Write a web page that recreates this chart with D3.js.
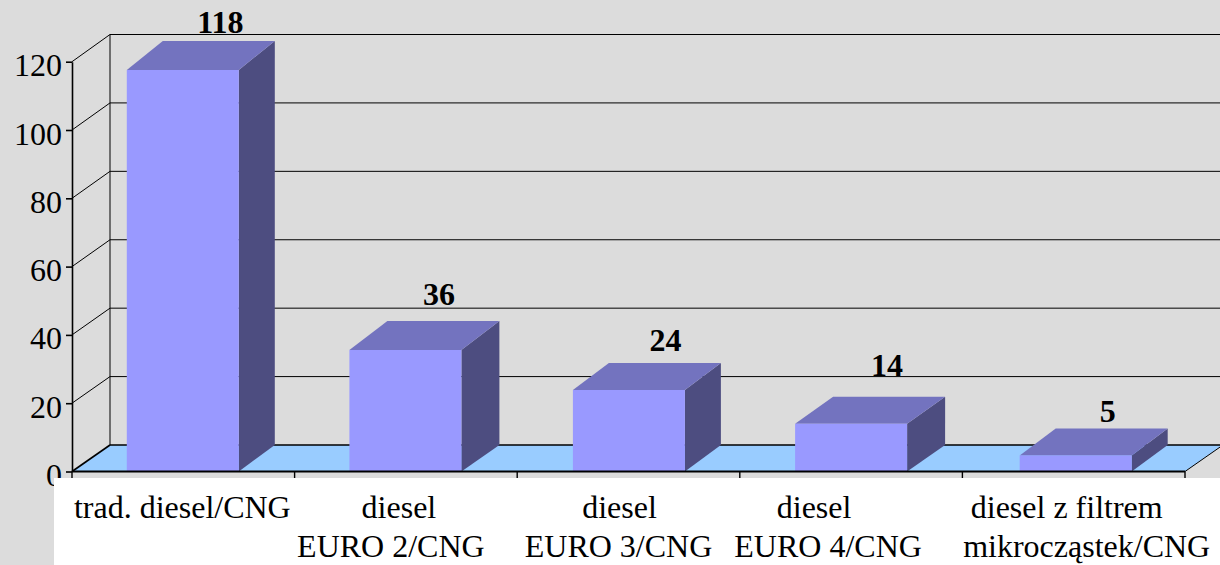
<!DOCTYPE html>
<html><head><meta charset="utf-8">
<script src="https://cdn.jsdelivr.net/npm/d3@7"></script>
<style>html,body{margin:0;padding:0;background:#dcdcdc;overflow:hidden}svg{display:block}text{font-family:"Liberation Serif",serif;fill:#000}</style>
</head><body><svg id="c" width="1220" height="565"></svg>
<script>
const categoriesLine1 = ["trad. diesel/CNG","diesel","diesel","diesel","diesel z filtrem"];
const categoriesLine2 = ["","EURO 2/CNG","EURO 3/CNG","EURO 4/CNG","mikrocząstek/CNG"];
const values = [118,36,24,14,5];
const barHeights = [117.6,35.6,23.9,14,4.7];
const yTicks = [0,20,40,60,80,100,120];

// layout, kept apart from the data
const L = {x0:72,x1:1185,y0:471.5,y1:61.7,bx:38,backY0:445,backY1:34.5,barW:112};
const barNudge=[-0.5,-0.5,0.4,0,2], barDx=[36,38,36,38,36], barDy=[-29,-29,-27,-27,-27];
const line1Off=[-1,-7,-9,-37,-7], line2Off=[0,-15,-10,-23,13];
const valDx=[37,33,37,36,34], valDy=[-37,-45,-39,-48,-33];

const svg=d3.select("#c");
const x=d3.scaleBand().domain(d3.range(values.length)).range([L.x0,L.x1]);
const y=d3.scaleLinear().domain([0,120]).range([L.y0,L.y1]);
const yb=d3.scaleLinear().domain([0,120]).range([L.backY0,L.backY1]);
const poly=(pts,fill,stroke)=>svg.append("polygon").attr("points",pts.map(p=>p.join(",")).join(" ")).attr("fill",fill).attr("stroke",stroke||"none");
const seg=(a,b,w,c)=>svg.append("line").attr("x1",a[0]).attr("y1",a[1]).attr("x2",b[0]).attr("y2",b[1]).attr("stroke",c||"#000").attr("stroke-width",w);

// floor
poly([[L.x0,y(0)],[L.x1,y(0)],[L.x1+L.bx,yb(0)],[L.x0+L.bx,yb(0)]],"#99ccff");

// wall gridlines and diagonals
yTicks.forEach(t=>{
  seg([L.x0+L.bx,yb(t)],[1222,yb(t)],t===0?1.6:1);
  seg([L.x0,y(t)],[L.x0+L.bx,yb(t)],t===0?1.6:1);
});
seg([L.x0+L.bx,yb(120)],[L.x0+L.bx,yb(0)],1);
seg([L.x1,y(0)],[L.x1+L.bx,yb(0)],1);

// left axis
const ax=svg.append("g").attr("transform",`translate(${L.x0},0)`)
  .call(d3.axisLeft(y).tickValues(yTicks).tickSize(6).tickPadding(4).tickFormat(d3.format("d")).tickSizeOuter(0));
ax.select(".domain").attr("stroke","#000").attr("stroke-width",1.6);
ax.selectAll(".tick line").attr("stroke","#000").attr("stroke-width",1.6);
ax.selectAll("text").attr("font-size",32).attr("font-family","Liberation Serif").attr("fill","#000").attr("dy","0.44em");

// bars
values.forEach((v,i)=>{
  const c=x(i)+x.bandwidth()/2, a=c-L.barW/2+barNudge[i], b=a+L.barW, top=y(barHeights[i]), bot=y(0);
  poly([[b,bot],[b+barDx[i],yb(0)],[b+barDx[i],top+barDy[i]],[b,top]],"#4d4d80");
  poly([[a,top],[b,top],[b+barDx[i],top+barDy[i]],[a+barDx[i],top+barDy[i]]],"#7373bf");
  poly([[a,top],[b,top],[b,bot],[a,bot]],"#9999ff");
  svg.append("text").attr("x",c+valDx[i]).attr("y",top+valDy[i]).attr("text-anchor","middle")
    .attr("font-size",32).attr("font-weight","bold").text(v);
});

// front baseline and ticks
seg([L.x0,y(0)],[L.x1,y(0)],2);
d3.range(values.length+1).forEach(i=>{
  const px=i<values.length?x(i):L.x1;
  seg([px,y(0)],[px,y(0)+7],1.4);
});

// white label panel
svg.append("rect").attr("x",54).attr("y",478).attr("width",1166).attr("height",87).attr("fill","#fff");
values.forEach((v,i)=>{
  const c=x(i)+x.bandwidth()/2;
  svg.append("text").attr("x",c+line1Off[i]).attr("y",517.5).attr("text-anchor","middle").attr("font-size",32).text(categoriesLine1[i]);
  if(categoriesLine2[i]) svg.append("text").attr("x",c+line2Off[i]).attr("y",557).attr("text-anchor","middle").attr("font-size",32).text(categoriesLine2[i]);
});
</script></body></html>
